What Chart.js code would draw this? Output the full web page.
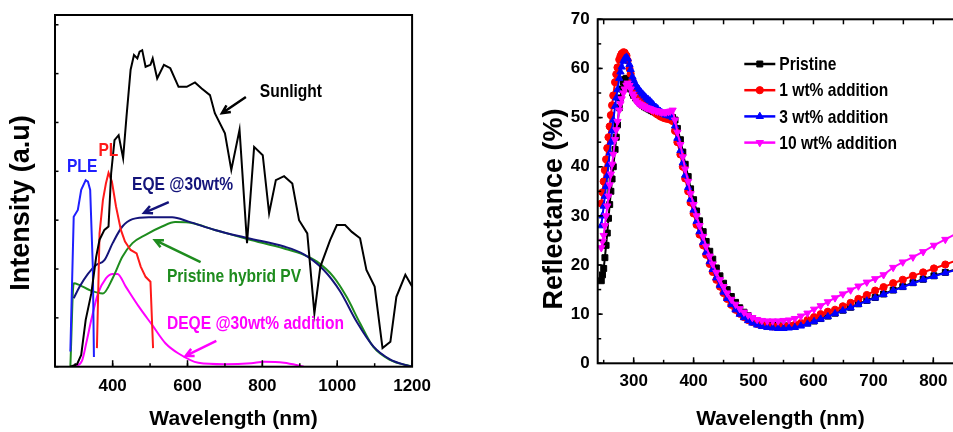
<!DOCTYPE html>
<html>
<head>
<meta charset="utf-8">
<script src="https://cdn.jsdelivr.net/npm/chart.js@4.4.1/dist/chart.umd.min.js"></script>
<style>
  html, body { margin: 0; padding: 0; background: #fff; overflow: hidden; width: 953px; height: 432px; }
  canvas { position: absolute; top: 0; }
  #left { left: 0; }
  #right { left: 530px; }
</style>
</head>
<body>
<canvas id="left" width="440" height="432"></canvas>
<canvas id="right" width="440" height="432"></canvas>
<script>
// ---- left panel: spectra (arbitrary units) ----
const sunX = [287, 305, 316, 328, 343, 356, 365, 378, 389, 396, 405, 416, 428, 437, 448, 457, 466, 472, 479, 488, 501, 507, 519, 537, 554, 576, 598, 620, 637, 660, 673, 700, 717, 739, 759, 778, 801, 818, 836, 858, 880, 898, 920, 939, 955, 981, 999, 1021, 1039, 1061, 1078, 1100, 1121, 1142, 1158, 1182, 1200];
const sunY = [0, 0.05, 0.24, 0.96, 1.5, 2.25, 2.6, 2.8, 2.87, 3.96, 4.64, 4.74, 4.27, 5.12, 6.08, 6.38, 6.31, 6.45, 6.48, 6.14, 6.18, 6.31, 5.9, 6.18, 6.11, 5.73, 5.73, 5.82, 5.7, 5.56, 5.19, 4.78, 4.03, 4.85, 2.53, 4.5, 4.33, 3.14, 3.82, 3.9, 3.75, 3.0, 2.73, 1.09, 2.05, 2.59, 2.9, 2.9, 2.76, 2.63, 1.98, 1.64, 0.38, 0.51, 1.43, 1.88, 1.64];

const pleX = [287, 296, 307, 316, 328, 334, 340, 347, 350];
const pleY = [0.31, 3.07, 3.21, 3.62, 3.82, 3.79, 3.62, 2.05, 0.2];

const plX = [358, 365, 374, 382, 389, 398, 409, 422, 433, 448, 464, 475, 488, 501, 508];
const plY = [0.38, 2.73, 3.41, 3.75, 3.97, 3.79, 3.28, 2.8, 2.56, 2.39, 2.32, 2.05, 1.84, 1.74, 0.38];

const eqeX = [296, 312, 334, 356, 378, 400, 426, 453, 497, 559, 603, 673, 762, 858, 911, 964, 1008, 1052, 1097, 1141, 1185, 1200];
const eqeY = [1.4, 1.64, 1.9, 2.08, 2.18, 2.53, 2.87, 3.02, 3.06, 3.06, 2.97, 2.8, 2.63, 2.46, 2.3, 1.98, 1.54, 0.92, 0.41, 0.15, 0.03, 0];

const pvX = [287, 296, 312, 338, 374, 400, 426, 453, 488, 532, 567, 603, 673, 762, 858, 911, 946, 990, 1025, 1061, 1096, 1141, 1200];
const pvY = [0, 1.71, 1.67, 1.57, 1.5, 1.81, 2.25, 2.53, 2.7, 2.87, 2.96, 2.95, 2.8, 2.61, 2.42, 2.29, 2.15, 1.84, 1.43, 0.89, 0.41, 0.14, 0];

const deqeX = [298, 318, 330, 343, 361, 382, 400, 413, 435, 470, 506, 541, 576, 629, 700, 770, 805, 858, 911];
const deqeY = [0, 0.12, 0.5, 0.96, 1.5, 1.81, 1.9, 1.9, 1.64, 1.23, 0.85, 0.48, 0.27, 0.08, 0.05, 0.07, 0.1, 0.08, 0];

const leftTickLabels = [400, 600, 800, 1000, 1200];

// ---- right panel: reflectance (%) ----
const wavelengths = [
  246, 248, 250, 252, 254, 256, 258, 260, 262, 264,
  266, 269, 271, 273, 276, 278, 280,
  283, 285, 288, 290, 293, 295, 298, 300,
  303, 306, 309, 312, 315, 318, 321, 324, 327, 330,
  333, 337, 340, 344, 347, 351, 354, 358, 361,
  365, 369, 373, 378, 382, 386, 391, 395, 400,
  405, 410, 416, 421, 427, 432, 438, 444, 450,
  456, 463, 470, 477, 484, 491, 498,
  506, 514, 523, 532, 541, 550, 559,
  569, 579, 590, 601, 612, 624,
  636, 649, 662, 675, 689, 703, 717,
  733, 749, 766, 783, 801, 820, 840
];
const pristine = [
  16.8, 18.0, 19.3, 21.5, 24.0, 26.5, 29.5, 32.3, 35.0, 37.5,
  40.0, 43.5, 46.0, 48.5, 52.0, 54.0, 55.8,
  57.2, 57.8, 58.0, 57.5, 56.5, 55.8, 55.0, 54.5,
  54.0, 53.6, 53.2, 52.8, 52.5, 52.2, 52.0, 51.8, 51.6, 51.4,
  51.2, 51.0, 50.8, 50.6, 50.4, 50.3, 50.2, 50.1, 50.1,
  50.0, 49.5, 47.8, 45.5, 43.0, 40.5, 38.0, 35.5, 33.3,
  31.0, 29.0, 26.8, 24.8, 22.8, 21.2, 19.4, 17.8, 16.3,
  15.0, 13.6, 12.4, 11.3, 10.4, 9.7, 9.1,
  8.6, 8.2, 7.9, 7.7, 7.6, 7.6, 7.6,
  7.7, 7.9, 8.2, 8.6, 9.1, 9.6,
  10.2, 10.8, 11.4, 12.1, 12.8, 13.4, 14.1,
  14.9, 15.6, 16.4, 17.1, 17.8, 18.5, 19.2
];
const wt1 = [
  32.5, 34.8, 37.0, 39.3, 41.5, 43.8, 46.0, 48.2, 50.5, 52.5,
  54.5, 57.2, 58.8, 60.2, 61.8, 62.5, 63.0,
  63.3, 63.2, 62.6, 61.6, 60.0, 58.9, 57.6, 56.8,
  55.9, 55.2, 54.6, 54.1, 53.6, 53.2, 52.8, 52.4, 52.0, 51.6,
  51.3, 50.9, 50.6, 50.3, 50.1, 49.9, 49.8, 49.7, 49.6,
  49.3, 47.3, 45.0, 42.5, 40.0, 37.6, 35.0, 32.7, 30.5,
  28.2, 26.2, 24.0, 22.1, 20.2, 18.6, 17.0, 15.6, 14.3,
  13.1, 11.9, 10.9, 10.1, 9.4, 8.8, 8.4,
  8.0, 7.8, 7.6, 7.5, 7.5, 7.5, 7.6,
  7.8, 8.2, 8.8, 9.4, 10.0, 10.5,
  10.9, 11.6, 12.3, 13.1, 13.9, 14.8, 15.5,
  16.3, 17.0, 17.8, 18.5, 19.3, 20.1, 21.0
];
const wt3 = [
  28.0, 30.0, 32.0, 34.0, 36.0, 38.2, 40.5, 42.8, 45.0, 47.3,
  49.5, 52.3, 54.0, 55.7, 58.0, 59.3, 60.3,
  61.5, 62.0, 62.3, 62.0, 60.8, 59.8, 58.3, 57.6,
  56.8, 56.2, 55.7, 55.2, 54.8, 54.4, 54.0, 53.7, 53.4, 53.0,
  52.6, 52.1, 51.8, 51.3, 51.0, 50.7, 50.5, 50.4, 50.3,
  50.0, 48.3, 45.8, 43.3, 40.8, 38.3, 35.8, 33.4, 31.2,
  28.9, 26.8, 24.6, 22.6, 20.7, 19.1, 17.4, 15.9, 14.5,
  13.2, 12.0, 10.9, 10.0, 9.3, 8.7, 8.2,
  7.8, 7.5, 7.3, 7.2, 7.1, 7.1, 7.2,
  7.3, 7.6, 8.0, 8.5, 9.0, 9.5,
  10.1, 10.7, 11.3, 12.0, 12.7, 13.3, 14.0,
  14.8, 15.5, 16.3, 17.0, 17.7, 18.4, 19.1
];
const wt10 = [
  23.5, 24.8, 26.0, 28.0, 30.0, 32.0, 34.0, 36.3, 38.5, 40.5,
  42.5, 45.5, 47.5, 49.2, 51.5, 52.8, 53.8,
  55.0, 55.8, 56.6, 57.0, 56.5, 55.8, 54.8, 54.3,
  53.5, 53.1, 52.8, 52.6, 52.4, 52.2, 52.0, 51.9, 51.8, 51.6,
  51.5, 51.4, 51.3, 51.2, 51.1, 51.1, 51.1, 51.2, 51.3,
  51.5, 49.5, 47.0, 44.5, 42.0, 39.5, 37.0, 34.5, 32.3,
  30.0, 28.0, 25.8, 23.8, 21.8, 20.2, 18.5, 17.0, 15.6,
  14.3, 13.0, 12.0, 11.1, 10.4, 9.8, 9.3,
  8.9, 8.7, 8.6, 8.6, 8.6, 8.7, 8.8,
  9.1, 9.6, 10.2, 11.0, 11.7, 12.5,
  13.3, 14.1, 14.9, 15.7, 16.5, 17.2, 18.0,
  19.5, 20.6, 21.6, 22.7, 24.0, 25.2, 26.5
];
const seriesNames = ['Pristine', '1 wt% addition', '3 wt% addition', '10 wt% addition'];
const rightTickLabels = [300, 400, 500, 600, 700, 800];
const reflTickLabels = [0, 10, 20, 30, 40, 50, 60, 70];

const SANS = 'Arial, "Liberation Sans", sans-serif';

function pts(xs, ys) {
  return xs.map((x, i) => ({ x: x, y: ys[i] }));
}

// bold text squeezed sideways, like the narrow face of the original figure
function narrowText(ctx, text, x, y, size) {
  ctx.save();
  ctx.translate(x, y);
  ctx.scale(0.82, 1);
  ctx.font = 'bold ' + size + 'px ' + SANS;
  ctx.fillText(text, 0, 0);
  ctx.restore();
}

// frame, inward ticks, axis titles, notes, arrows, legend
const decor = {
  id: 'decor',
  afterDatasetsDraw(chart, args, o) {
    const ctx = chart.ctx, a = chart.chartArea;
    const sx = chart.scales.x, sy = chart.scales.y;
    ctx.save();
    ctx.strokeStyle = '#000';
    ctx.lineWidth = 2;
    ctx.strokeRect(a.left, a.top, a.right - a.left, a.bottom - a.top);

    ctx.lineWidth = 1.5;
    (o.ticks || []).forEach(t => {
      const sc = (t.side === 'bottom' || t.side === 'top') ? sx : sy;
      const start = Math.ceil(sc.min / t.step) * t.step;
      for (let v = start; v <= sc.max + 1e-6; v += t.step) {
        const p = sc.getPixelForValue(v);
        ctx.beginPath();
        if (t.side === 'bottom') { ctx.moveTo(p, a.bottom); ctx.lineTo(p, a.bottom - t.len); }
        else if (t.side === 'top') { ctx.moveTo(p, a.top); ctx.lineTo(p, a.top + t.len); }
        else { ctx.moveTo(a.left, p); ctx.lineTo(a.left + t.len, p); }
        ctx.stroke();
      }
    });

    // arrows (data coords)
    (o.arrows || []).forEach(ar => {
      const x1 = sx.getPixelForValue(ar.x1), y1 = sy.getPixelForValue(ar.y1);
      const x2 = sx.getPixelForValue(ar.x2), y2 = sy.getPixelForValue(ar.y2);
      const ang = Math.atan2(y2 - y1, x2 - x1);
      ctx.strokeStyle = ar.color;
      ctx.lineWidth = 2.5;
      ctx.beginPath();
      ctx.moveTo(x1, y1); ctx.lineTo(x2, y2);
      ctx.moveTo(x2 - 9 * Math.cos(ang - 0.45), y2 - 9 * Math.sin(ang - 0.45));
      ctx.lineTo(x2, y2);
      ctx.lineTo(x2 - 9 * Math.cos(ang + 0.45), y2 - 9 * Math.sin(ang + 0.45));
      ctx.stroke();
    });

    // text notes (data coords)
    ctx.textBaseline = 'middle';
    ctx.textAlign = 'left';
    (o.notes || []).forEach(n => {
      ctx.fillStyle = n.color;
      narrowText(ctx, n.text, sx.getPixelForValue(n.x), sy.getPixelForValue(n.y), 19);
    });

    // legend
    if (o.legend) {
      const L = o.legend;
      chart.data.datasets.forEach((ds, i) => {
        const y = a.top + L.top + i * L.gap;
        const x0 = a.left + L.left;
        ctx.strokeStyle = ds.borderColor;
        ctx.lineWidth = 2.5;
        ctx.beginPath();
        ctx.moveTo(x0, y); ctx.lineTo(x0 + L.len, y);
        ctx.stroke();
        ctx.fillStyle = ds.pointBackgroundColor;
        ctx.lineWidth = 1;
        Chart.helpers.drawPoint(ctx, {
          pointStyle: ds.pointStyle, radius: ds.pointRadius,
          rotation: ds.pointRotation || 0, borderWidth: 1
        }, x0 + L.len / 2, y);
        ctx.fillStyle = '#000';
        narrowText(ctx, ds.label, x0 + L.len + 4, y + 1, 19);
      });
    }
    ctx.restore();
  },
  afterDraw(chart, args, o) {
    const ctx = chart.ctx, a = chart.chartArea;
    ctx.save();
    ctx.fillStyle = '#000';
    ctx.textAlign = 'center';
    ctx.textBaseline = 'alphabetic';
    ctx.font = 'bold 21px ' + SANS;
    ctx.fillText(o.xTitle, (a.left + a.right) / 2, 425);
    ctx.translate(o.yTitleX, o.yTitleY);
    ctx.rotate(-Math.PI / 2);
    ctx.textBaseline = 'middle';
    ctx.font = 'bold 27px ' + SANS;
    ctx.fillText(o.yTitle, 0, 0);
    ctx.restore();
  }
};

const tickFont = { family: SANS, size: 17, weight: 'bold' };

// ---- left chart ----
new Chart(document.getElementById('left'), {
  type: 'line',
  data: {
    datasets: [
      { label: 'Sunlight', data: pts(sunX, sunY), borderColor: '#000000', tension: 0 },
      { label: 'PLE', data: pts(pleX, pleY), borderColor: '#1f1fff', tension: 0 },
      { label: 'PL', data: pts(plX, plY), borderColor: '#ff1a1a', tension: 0 },
      { label: 'EQE @30wt%', data: pts(eqeX, eqeY), borderColor: '#14147a', cubicInterpolationMode: 'monotone' },
      { label: 'Pristine hybrid PV', data: pts(pvX, pvY), borderColor: '#1e8c1e', cubicInterpolationMode: 'monotone' },
      { label: 'DEQE @30wt% addition', data: pts(deqeX, deqeY), borderColor: '#ff00ff', cubicInterpolationMode: 'monotone' }
    ]
  },
  options: {
    responsive: false,
    animation: false,
    devicePixelRatio: 1,
    layout: { padding: { top: 15, right: 23.3, left: 0, bottom: 0 } },
    elements: { point: { radius: 0 }, line: { borderWidth: 2 } },
    plugins: {
      legend: { display: false },
      tooltip: { enabled: false },
      decor: {
        xTitle: 'Wavelength (nm)',
        yTitle: 'Intensity (a.u)', yTitleX: 22, yTitleY: 203,
        ticks: [
          { side: 'bottom', step: 100, len: 3.5 },
          { side: 'bottom', step: 200, len: 6.5 },
          { side: 'left', step: 1, len: 3.5 }
        ],
        notes: [
          { text: 'Sunlight', x: 793, y: 5.63, color: '#000000' },
          { text: 'PL', x: 362, y: 4.43, color: '#ff1a1a' },
          { text: 'PLE', x: 278, y: 4.09, color: '#1f1fff' },
          { text: 'EQE @30wt%', x: 452, y: 3.72, color: '#14147a' },
          { text: 'Pristine hybrid PV', x: 545, y: 1.84, color: '#1e8c1e' },
          { text: 'DEQE @30wt% addition', x: 545, y: 0.87, color: '#ff00ff' }
        ],
        arrows: [
          { x1: 756, y1: 5.52, x2: 692, y2: 5.19, color: '#000000' },
          { x1: 550, y1: 3.37, x2: 484, y2: 3.15, color: '#14147a' },
          { x1: 635, y1: 2.14, x2: 513, y2: 2.59, color: '#1e8c1e' },
          { x1: 677, y1: 0.53, x2: 595, y2: 0.22, color: '#ff00ff' }
        ]
      }
    },
    scales: {
      x: {
        type: 'linear', min: 246, max: 1200,
        grid: { display: false, drawTicks: false },
        border: { display: false },
        ticks: { padding: 9, color: '#000', font: tickFont, callback: v => String(v) },
        afterBuildTicks: s => { s.ticks = leftTickLabels.map(v => ({ value: v })); },
        afterFit: s => { s.height = 65.3; }
      },
      y: {
        type: 'linear', min: 0, max: 7.2,
        grid: { display: false, drawTicks: false },
        border: { display: false },
        ticks: { display: false },
        afterFit: s => { s.width = 55; }
      }
    }
  },
  plugins: [decor]
});

// ---- right chart ----
const colors = ['#000000', '#ff0000', '#0000ff', '#ff00ff'];
const styles = ['rect', 'circle', 'triangle', 'triangle'];
const rotations = [0, 0, 0, 180];
const radii = [4.2, 3.6, 4.2, 4.2];
const series = [pristine, wt1, wt3, wt10];

new Chart(document.getElementById('right'), {
  type: 'line',
  data: {
    datasets: series.map((ys, i) => ({
      label: seriesNames[i],
      data: pts(wavelengths, ys),
      borderColor: colors[i],
      backgroundColor: colors[i],
      pointBackgroundColor: colors[i],
      pointBorderColor: colors[i],
      pointStyle: styles[i],
      pointRotation: rotations[i],
      pointRadius: radii[i],
      pointBorderWidth: 1,
      borderWidth: 2,
      tension: 0,
      order: 4 - i
    }))
  },
  options: {
    responsive: false,
    animation: false,
    devicePixelRatio: 1,
    layout: { padding: { top: 19.3, right: 6.7, left: 0, bottom: 0 } },
    plugins: {
      legend: { display: false },
      tooltip: { enabled: false },
      decor: {
        xTitle: 'Wavelength (nm)',
        yTitle: 'Reflectance (%)', yTitleX: 25, yTitleY: 209,
        ticks: [
          { side: 'bottom', step: 50, len: 3.5 },
          { side: 'bottom', step: 100, len: 6 },
          { side: 'top', step: 50, len: 5 },
          { side: 'left', step: 5, len: 3.5 },
          { side: 'left', step: 10, len: 5 }
        ],
        legend: { left: 146.6, top: 44.7, gap: 26.2, len: 31 }
      }
    },
    scales: {
      x: {
        type: 'linear', min: 240, max: 850,
        grid: { display: false, drawTicks: false },
        border: { display: false },
        ticks: { padding: 8, color: '#000', font: tickFont, callback: v => String(v) },
        afterBuildTicks: s => { s.ticks = rightTickLabels.map(v => ({ value: v })); },
        afterFit: s => { s.height = 68.7; }
      },
      y: {
        type: 'linear', min: 0, max: 70,
        grid: { display: false, drawTicks: false },
        border: { display: false },
        ticks: { padding: 8, color: '#000', font: tickFont },
        afterBuildTicks: s => { s.ticks = reflTickLabels.map(v => ({ value: v })); },
        afterFit: s => { s.width = 67.7; }
      }
    }
  },
  plugins: [decor]
});
</script>
</body>
</html>
